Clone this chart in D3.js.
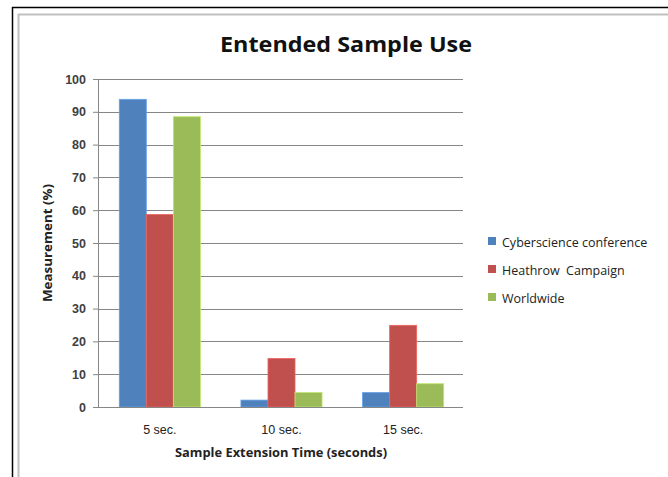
<!DOCTYPE html>
<html>
<head>
<meta charset="utf-8">
<script src="https://cdn.jsdelivr.net/npm/d3@7"></script>
<style>
	body { margin: 0; background: #fff; }
	svg { display: block; font-family: "Open Sans", "Noto Sans", sans-serif; }
</style>
</head>
<body>
<svg id="chart" width="668" height="477"></svg>
<script>
// data
const categories = [ '5 sec.', '10 sec.', '15 sec.' ];
const seriesNames = [ 'Cyberscience conference', 'Heathrow  Campaign', 'Worldwide' ];
const cyberscience = [ 93.8, 2.1, 4.4 ];
const heathrow = [ 58.7, 14.8, 24.9 ];
const worldwide = [ 88.5, 4.4, 7.1 ];
const yTicks = [ 0, 10, 20, 30, 40, 50, 60, 70, 80, 90, 100 ];
const colors = [ '#4F81BD', '#C0504D', '#9BBB59' ];

const series = [ cyberscience, heathrow, worldwide ];

const svg = d3.select('#chart');
const plot = { left: 98, right: 463, top: 79, bottom: 407 };

// frame lines around the embedded chart
svg.append('line')
	.attr('x1', 12).attr('x2', 668).attr('y1', 7.5).attr('y2', 7.5)
	.style('stroke', '#000').style('stroke-width', 1.5);
svg.append('line')
	.attr('x1', 12.5).attr('x2', 12.5).attr('y1', 7).attr('y2', 477)
	.style('stroke', '#000').style('stroke-width', 1.5);
svg.append('path')
	.attr('d', 'M18.5,477V14.5H668')
	.style('fill', 'none').style('stroke', '#c0c0c0').style('stroke-width', 2);

// gap width 150% like the original chart
let xScale = d3.scaleBand()
	.domain(categories)
	.range([ plot.left + 1, plot.right + 1 ])
	.paddingInner(1 / 3)
	.paddingOuter(1 / 6);
let xInner = d3.scaleBand()
	.domain(d3.range(series.length))
	.range([ 0, xScale.bandwidth() ]);
let yScale = d3.scaleLinear()
	.domain([ 0, 100 ])
	.range([ plot.bottom, plot.top ]);

// gridlines
svg.append('g')
	.selectAll('line')
	.data(yTicks.filter(d => d > 0))
	.join('line')
	.attr('x1', plot.left).attr('x2', plot.right)
	.attr('y1', d => Math.round(yScale(d)) + 0.5)
	.attr('y2', d => Math.round(yScale(d)) + 0.5)
	.style('stroke', '#868686').style('stroke-width', 1);

// y axis
let yAxis = svg.append('g')
	.attr('transform', 'translate(' + plot.left + ',0)')
	.call(d3.axisLeft(yScale).tickValues(yTicks).tickSize(5).tickPadding(7));
yAxis.select('.domain').style('stroke', '#868686');
yAxis.selectAll('.tick line').style('stroke', '#868686');
yAxis.selectAll('.tick text')
	.style('font-size', '12.5px').style('font-weight', 600).style('fill', '#404040');

// bars
series.forEach(function(values, s) {
	svg.append('g')
		.selectAll('rect')
		.data(values)
		.join('rect')
		.attr('x', (d, i) => xScale(categories[i]) + xInner(s))
		.attr('y', d => yScale(d))
		.attr('width', xInner.bandwidth())
		.attr('height', d => yScale(0) - yScale(d))
		.style('fill', colors[s])
		.style('stroke', d3.color(colors[s]).brighter(0.6))
		.style('stroke-width', 0.8);
});

// x axis
let xAxis = svg.append('g')
	.attr('transform', 'translate(0,' + plot.bottom + ')')
	.call(d3.axisBottom(xScale).tickSize(0).tickPadding(18));
xAxis.select('.domain').attr('d', 'M' + (plot.left - 4) + ',0.5H' + plot.right).style('stroke', '#868686');
xAxis.selectAll('.tick text')
	.style('font-size', '12.5px').style('fill', '#222');

// titles
svg.append('text')
	.attr('x', 346).attr('y', 52)
	.attr('text-anchor', 'middle')
	.style('font-size', '21px').style('font-weight', 700).style('fill', '#111')
	.attr('textLength', 252).attr('lengthAdjust', 'spacingAndGlyphs')
	.text('Entended Sample Use');

svg.append('text')
	.attr('x', 281).attr('y', 457)
	.attr('text-anchor', 'middle')
	.style('font-size', '12px').style('font-weight', 700).style('fill', '#222')
	.attr('textLength', 212).attr('lengthAdjust', 'spacingAndGlyphs')
	.text('Sample Extension Time (seconds)');

svg.append('text')
	.attr('transform', 'translate(52,243) rotate(-90)')
	.attr('text-anchor', 'middle')
	.style('font-size', '12px').style('font-weight', 700).style('fill', '#222')
	.attr('textLength', 118).attr('lengthAdjust', 'spacingAndGlyphs')
	.text('Measurement (%)');

// legend
let legend = svg.append('g')
	.selectAll('g')
	.data(seriesNames)
	.join('g')
	.attr('transform', (d, i) => 'translate(488,' + (243 + i * 28) + ')');
legend.append('rect')
	.attr('x', 0).attr('y', -6).attr('width', 8).attr('height', 8)
	.style('fill', (d, i) => colors[i]);
legend.append('text')
	.attr('x', 14).attr('y', 4)
	.style('font-size', '12.5px').style('fill', '#222')
	.style('white-space', 'pre')
	.text(d => d);
</script>
</body>
</html>
